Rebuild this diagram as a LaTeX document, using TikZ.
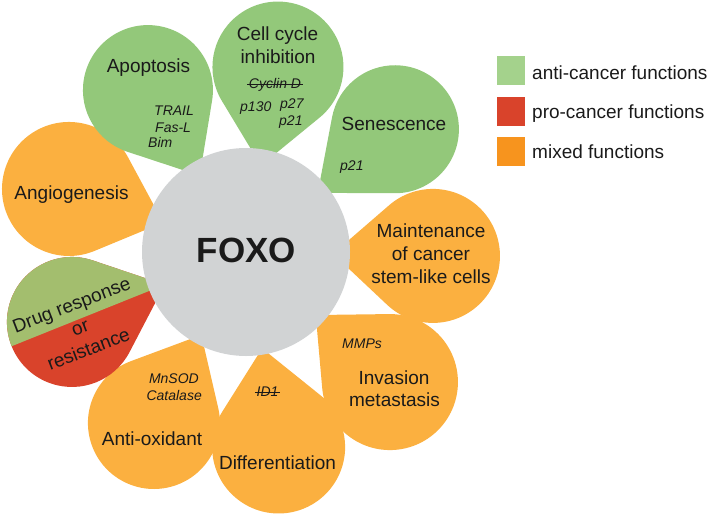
\documentclass[tikz,border=0pt]{standalone}
\usepackage{fontspec}
\setmainfont{Liberation Sans}
\usetikzlibrary{calc}
\definecolor{petalgreen}{HTML}{93C87A}
\definecolor{leggreen}{HTML}{A4D28C}
\definecolor{procred}{HTML}{D9432B}
\definecolor{petalorange}{HTML}{FBB040}
\definecolor{legorange}{HTML}{F7941E}
\definecolor{foxogrey}{HTML}{D1D3D4}
\definecolor{druggreen}{HTML}{A3BE6E}
\definecolor{txt}{HTML}{1A1A1A}
\newcommand\drawpetal[5]{% name, phi, D, r, fill
  \pgfmathsetmacro\pbeta{acos(#4/100)}
  \coordinate (#1) at ($(F)+(#2:#3)$);
  \fill[#5] ($(F)+(#2:{#3-100})$) -- ($(#1)+({#2+180+\pbeta}:#4)$)
    arc[start angle={#2+180+\pbeta}, delta angle={360-2*\pbeta}, radius=#4] -- cycle;
}
\tikzset{
  big/.style={anchor=base, inner sep=0, text=txt, font=\fontsize{19}{23}\selectfont},
  small/.style={anchor=base west, inner sep=0, text=txt, font=\itshape\fontsize{14}{16.5}\selectfont},
  legbox/.style={minimum width=28, minimum height=29, inner sep=0},
  legtext/.style={anchor=base west, inner sep=0, text=txt, font=\fontsize{19}{23}\selectfont},
  strike/.style={txt, line width=0.8pt}
}
\begin{document}
\begin{tikzpicture}[x=1pt,y=1pt]
\useasboundingbox (0,0) rectangle (708,-514);
\coordinate (F) at (246,-252);
% petals
\drawpetal{angio}{160.4}{187.9}{67}{petalorange}
\drawpetal{apop}{121.2}{189.3}{65}{petalgreen}
\drawpetal{cycle}{80.2}{187.7}{65.5}{petalgreen}
\drawpetal{senes}{39.5}{193}{64}{petalgreen}
\drawpetal{maint}{-1.2}{187}{67}{petalorange}
\drawpetal{inva}{-42.1}{194}{68}{petalorange}
\drawpetal{diff}{-80.5}{197.7}{66.5}{petalorange}
\drawpetal{anti}{-118.3}{194.2}{66}{petalorange}
\drawpetal{drug}{201.9}{187.6}{65}{procred}
\begin{scope}
  \clip ($(drug)+(21.9:-300)$) -- ($(drug)+(21.9:300)$) -- ++(111.9:300) -- ++(201.9:600) -- cycle;
  \drawpetal{druggr}{201.9}{187.6}{65}{druggreen}
\end{scope}
% centre
\node[circle, fill=foxogrey, minimum size=208, inner sep=0] (foxo) at (F) {};
\node[anchor=base, inner sep=0, text=txt, font=\bfseries\fontsize{35}{35}\selectfont] (foxot) at (246.5,-262) {FOXO};
% labels
\node[big] (l1) at (148.5,-72) {Apoptosis};
\node[small] (t1) at (154,-115) {TRAIL};
\node[small] (t2) at (155,-132) {Fas-L};
\node[small] (t3) at (148,-147) {Bim};
\node[big] (l2a) at (277.5,-40) {Cell cycle};
\node[big] (l2b) at (278,-63) {inhibition};
\node[small, anchor=center, inner xsep=1.5pt] (cyc) at (275,-84.5) {Cyclin D};
\draw[strike] (cyc.west) -- (cyc.east);
\node[small] (p130) at (240,-111) {p130};
\node[small] (p27) at (280,-108) {p27};
\node[small] (p21a) at (279,-125) {p21};
\node[big] (l3) at (394,-130) {Senescence};
\node[small] (p21b) at (340,-170) {p21};
\node[big] (l4a) at (431,-237) {Maintenance};
\node[big] (l4b) at (431,-260) {of cancer};
\node[big] (l4c) at (431,-283) {stem-like cells};
\node[small] (mmp) at (342,-348) {MMPs};
\node[big] (l5a) at (394,-384) {Invasion};
\node[big] (l5b) at (394.5,-406) {metastasis};
\node[small, anchor=center, inner xsep=1.5pt] (id1) at (267.5,-392) {ID1};
\draw[strike] (id1.west) -- (id1.east);
\node[big] (l6) at (277.5,-469) {Differentiation};
\node[small, anchor=base east] (mn) at (199,-383) {MnSOD};
\node[small, anchor=base east] (cat) at (202,-400) {Catalase};
\node[big] (l7) at (152,-445) {Anti-oxidant};
\node[inner sep=0, text=txt, align=center, rotate=21, font=\fontsize{19}{23.8}\selectfont] (l8) at (80,-327) {Drug response\\or\\resistance};
\node[big] (l9) at (71.5,-199) {Angiogenesis};
% legend
\node[legbox, fill=leggreen] (g1) at (511,-70.5) {};
\node[legbox, fill=procred] (g2) at (511,-111) {};
\node[legbox, fill=legorange] (g3) at (511,-151.5) {};
\node[legtext] (g1t) at (532,-79) {anti-cancer functions};
\node[legtext] (g2t) at (532,-118) {pro-cancer functions};
\node[legtext] (g3t) at (532,-158) {mixed functions};
\end{tikzpicture}
\end{document}
